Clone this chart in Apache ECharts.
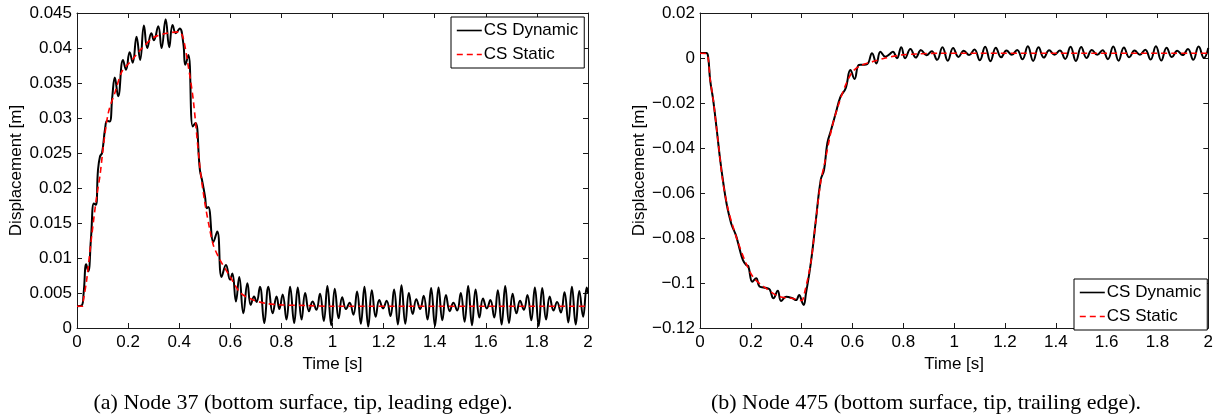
<!DOCTYPE html>
<html><head><meta charset="utf-8">
<script src="https://cdn.jsdelivr.net/npm/echarts@6/dist/echarts.min.js"></script>
<style>html,body{margin:0;padding:0;background:#fff}#c{width:1216px;height:418px}</style>
</head><body><div id="c"></div>
<script>
// ---- Node 37 (left) ----
const t37Dyn = [0.000,0.018,0.026,0.036,0.044,0.055,0.066,0.074,0.082,0.090,0.098,0.110,0.118,0.128,0.138,0.148,0.161,0.180,0.192,0.206,0.218,0.233,0.247,0.262,0.275,0.291,0.301,0.318,0.331,0.347,0.361,0.374,0.387,0.402,0.416,0.424,0.436,0.453,0.464,0.481,0.490,0.501,0.508,0.514,0.534,0.549,0.566,0.583,0.599,0.608,0.622,0.635,0.651,0.667,0.680,0.693,0.703,0.716,0.733,0.749,0.766,0.781,0.792,0.805,0.820,0.834,
0.850,0.864,0.879,0.893,0.908,0.922,0.937,0.951,0.966,0.980,0.995,1.009,1.024,1.038,1.053,1.067,1.082,1.096,1.111,1.125,1.140,1.154,1.169,1.183,1.198,1.212,1.227,1.241,1.256,1.270,1.285,1.299,1.314,1.328,1.343,1.357,1.372,1.386,1.401,1.415,1.430,1.444,1.459,1.473,1.488,1.502,1.517,1.531,1.546,1.560,1.575,1.589,1.604,1.618,1.633,1.647,1.662,1.676,1.691,1.705,1.720,1.734,1.749,1.763,1.778,1.792,1.807,1.821,1.836,1.850,1.865,1.879,1.894,1.908,1.923,1.937,1.952,1.966,1.981,1.995,2.000];
const d37Dyn = [0.0031,0.0032,0.0050,0.0091,0.0081,0.0130,0.0178,0.0176,0.0225,0.0245,0.0250,0.0285,0.0296,0.0295,0.0330,0.0358,0.0331,0.0383,0.0369,0.0394,0.0379,0.0416,0.0383,0.0432,0.0400,0.0421,0.0411,0.0431,0.0400,0.0441,0.0401,0.0433,0.0421,0.0428,0.0407,0.0376,0.0390,0.0288,0.0293,0.0226,0.0210,0.0188,0.0171,0.0173,0.0123,0.0138,0.0073,0.0090,0.0069,0.0078,0.0038,0.0073,0.0021,0.0064,0.0033,0.0045,0.0037,0.0059,0.0007,0.0059,0.0021,0.0045,0.0027,0.0048,0.0012,0.0059,
0.0007,0.0058,0.0012,0.0050,0.0024,0.0038,0.0026,0.0049,0.0010,0.0060,0.0004,0.0056,0.0014,0.0044,0.0027,0.0036,0.0019,0.0052,0.0006,0.0059,0.0002,0.0054,0.0016,0.0040,0.0028,0.0039,0.0017,0.0055,0.0005,0.0061,0.0006,0.0050,0.0020,0.0041,0.0027,0.0046,0.0012,0.0057,0.0003,0.0058,0.0011,0.0047,0.0024,0.0036,0.0025,0.0050,0.0009,0.0060,0.0004,0.0055,0.0015,0.0042,0.0028,0.0040,0.0015,0.0054,0.0005,0.0060,0.0007,0.0049,0.0021,0.0039,0.0026,0.0047,0.0011,0.0058,0.0003,0.0057,0.0012,0.0045,0.0025,0.0037,0.0022,0.0051,0.0008,0.0059,0.0005,0.0053,0.0016,0.0058,0.0050];
const t37Sta = [0,0.020,0.025,0.038,0.057,0.077,0.090,0.105,0.123,0.150,0.175,0.200,0.220,0.250,0.300,0.350,0.400,0.415,0.436,0.455,0.481,0.500,0.520,0.534,0.560,0.600,0.640,0.690,0.740,0.800,0.900,1.000,2.000];
const d37Sta = [0.0031,0.0031,0.0040,0.0069,0.0130,0.0188,0.0218,0.0265,0.0308,0.0338,0.0366,0.0377,0.0385,0.0398,0.0415,0.0421,0.0423,0.0415,0.0373,0.0326,0.0230,0.0180,0.0140,0.0118,0.0097,0.0073,0.0050,0.0040,0.0035,0.0033,0.0032,0.0031,0.0031];

// ---- Node 475 (right) ----
const t475Dyn = [0,0.025,0.032,0.040,0.052,0.065,0.078,0.091,0.105,0.118,0.124,0.135,0.143,0.155,0.169,0.182,0.190,0.206,0.221,0.234,0.250,0.267,0.275,0.289,0.306,0.319,0.339,0.364,0.378,0.390,0.401,0.408,0.417,0.436,0.456,0.475,0.488,0.501,0.514,0.534,0.553,0.573,0.592,0.608,0.625,0.640,0.658,0.677,0.694,0.710,0.729,0.744,0.759,0.775,0.792,
0.807,0.828,0.849,0.870,0.891,0.912,0.933,0.954,0.975,0.996,1.017,1.038,1.059,1.080,1.101,1.122,1.143,1.164,1.185,1.206,1.227,1.248,1.269,1.290,1.311,1.332,1.353,1.374,1.395,1.416,1.437,1.458,1.479,1.500,1.521,1.542,1.563,1.584,1.605,1.626,1.647,1.668,1.689,1.710,1.731,1.752,1.773,1.794,1.815,1.836,1.857,1.878,1.899,1.920,1.941,1.962,1.983,2.000];
const d475Dyn = [0.0022,0.0022,0.0005,-0.0098,-0.0187,-0.0310,-0.0440,-0.0550,-0.0650,-0.0715,-0.0740,-0.0770,-0.0794,-0.0845,-0.0898,-0.0920,-0.0925,-0.0994,-0.0979,-0.1016,-0.1020,-0.1024,-0.1030,-0.1068,-0.1034,-0.1080,-0.1061,-0.1068,-0.1076,-0.1053,-0.1083,-0.1098,-0.1046,-0.0912,-0.0720,-0.0542,-0.0498,-0.0379,-0.0327,-0.0246,-0.0172,-0.0135,-0.0053,-0.0093,-0.0031,-0.0030,-0.0027,0.0021,-0.0024,0.0028,0.0006,0.0015,0.0028,-0.0001,0.0048,
-0.0001,0.0040,0.0002,0.0035,0.0012,0.0030,-0.0008,0.0048,-0.0012,0.0045,0.0005,0.0032,0.0013,0.0038,-0.0010,0.0050,-0.0014,0.0046,0.0003,0.0033,0.0014,0.0036,-0.0006,0.0052,-0.0013,0.0048,0.0002,0.0034,0.0015,0.0033,-0.0004,0.0050,-0.0013,0.0049,0.0000,0.0036,0.0014,0.0034,-0.0005,0.0051,-0.0012,0.0047,0.0003,0.0033,0.0015,0.0037,-0.0007,0.0052,-0.0011,0.0046,0.0004,0.0032,0.0013,0.0040,-0.0008,0.0051,0.0000,0.0044];
const t475Sta = [0,0.025,0.032,0.040,0.052,0.070,0.090,0.110,0.130,0.150,0.180,0.210,0.250,0.310,0.360,0.400,0.410,0.436,0.456,0.475,0.490,0.520,0.550,0.575,0.600,0.630,0.680,0.730,0.790,0.850,0.950,2.000];
const d475Sta = [0.0021,0.0020,0.0000,-0.0095,-0.0185,-0.0360,-0.0550,-0.0670,-0.0750,-0.0820,-0.0910,-0.0975,-0.1016,-0.1060,-0.1068,-0.1078,-0.1050,-0.0910,-0.0720,-0.0550,-0.0470,-0.0305,-0.0190,-0.0115,-0.0061,-0.0035,-0.0016,0.0000,0.0013,0.0018,0.0021,0.0021];

const xTickLabels = ['0','0.2','0.4','0.6','0.8','1','1.2','1.4','1.6','1.8','2'];
const yTickLabels37 = ['0','0.005','0.01','0.015','0.02','0.025','0.03','0.035','0.04','0.045'];
const yTickLabels475 = ['\u22120.12','\u22120.1','\u22120.08','\u22120.06','\u22120.04','\u22120.02','0','0.02'];
const seriesNames = ['CS Dynamic','CS Static'];
const captions = ['(a) Node 37 (bottom surface, tip, leading edge).','(b) Node 475 (bottom surface, tip, trailing edge).'];

const zip = (a, b) => a.map((v, i) => [v, b[i]]);
const FONT = 'Liberation Sans, Arial, Helvetica, sans-serif';
const axisCol = '#1a1a1a';
const FS = 17;

function xAx(gi, pos, show) {
  return {
    type: 'value', gridIndex: gi, position: pos, min: 0, max: 2, interval: 0.2,
    axisLine: { show: true, onZero: false, lineStyle: { color: axisCol, width: 1 } },
    axisTick: { show: true, inside: true, length: 5, lineStyle: { color: axisCol } },
    splitLine: { show: false },
    axisLabel: show ? { show: true, margin: 6, color: '#000', fontSize: FS, fontFamily: FONT,
      formatter: v => xTickLabels[Math.round(v / 0.2)] } : { show: false },
    name: show ? 'Time [s]' : '', nameLocation: 'middle', nameGap: 20,
    nameTextStyle: { color: '#000', fontSize: FS, fontFamily: FONT }
  };
}
function yAx(gi, pos, show, min, max, itv, labels) {
  return {
    type: 'value', gridIndex: gi, position: pos, min: min, max: max, interval: itv,
    axisLine: { show: true, onZero: false, lineStyle: { color: axisCol, width: 1 } },
    axisTick: { show: true, inside: true, length: 5, lineStyle: { color: axisCol } },
    splitLine: { show: false },
    axisLabel: show ? { show: true, margin: 5, color: '#000', fontSize: FS, fontFamily: FONT,
      formatter: v => labels[Math.round((v - min) / itv)] } : { show: false },
    name: show ? 'Displacement [m]' : '', nameLocation: 'middle', nameGap: 52,
    nameTextStyle: { color: '#000', fontSize: FS, fontFamily: FONT }
  };
}
function dyn(xi, yi, data) {
  return { name: seriesNames[0], type: 'line', xAxisIndex: xi, yAxisIndex: yi, data: data,
    symbol: 'none', smooth: 0.45, lineStyle: { color: '#000', width: 2, type: 'solid' },
    itemStyle: { color: '#000' }, silent: true, animation: false, z: 2 };
}
function sta(xi, yi, data) {
  return { name: seriesNames[1], type: 'line', xAxisIndex: xi, yAxisIndex: yi, data: data,
    symbol: 'none', smooth: 0.3, lineStyle: { color: '#ff0000', width: 1.6, type: [6, 4] },
    itemStyle: { color: '#ff0000' }, silent: true, animation: false, z: 3 };
}
function leg(left, top) {
  return { left: left, top: top, orient: 'vertical', data: seriesNames,
    itemWidth: 25, itemHeight: 14, itemGap: 7, padding: [5, 6, 5, 5],
    itemStyle: { opacity: 0, borderWidth: 0 },
    lineStyle: { width: 1.6 },
    backgroundColor: '#fff', borderColor: '#000', borderWidth: 1, borderRadius: 0,
    selectedMode: false, textStyle: { color: '#000', fontSize: FS, fontFamily: FONT, padding: [0, 0, 0, -3] } };
}

const chart = echarts.init(document.getElementById('c'), null, { renderer: 'canvas' });
chart.setOption({
  animation: false,
  backgroundColor: '#fff',
  grid: [
    { left: 77, top: 13, width: 511, height: 315, containLabel: false },
    { left: 700, top: 13, width: 512, height: 315, containLabel: false }
  ],
  xAxis: [xAx(0, 'bottom', true), xAx(0, 'top', false), xAx(1, 'bottom', true), xAx(1, 'top', false)],
  yAxis: [
    yAx(0, 'left', true, 0, 0.045, 0.005, yTickLabels37), yAx(0, 'right', false, 0, 0.045, 0.005, yTickLabels37),
    yAx(1, 'left', true, -0.12, 0.02, 0.02, yTickLabels475), yAx(1, 'right', false, -0.12, 0.02, 0.02, yTickLabels475)
  ],
  legend: [leg(451, 17), leg(1074, 279)],
  series: [
    dyn(0, 0, zip(t37Dyn, d37Dyn)), sta(0, 0, zip(t37Sta, d37Sta)),
    dyn(2, 2, zip(t475Dyn, d475Dyn)), sta(2, 2, zip(t475Sta, d475Sta))
  ],
  graphic: [
    { type: 'text', x: 303, y: 403, style: { text: captions[0], x: 0, y: 0, textAlign: 'center', textVerticalAlign: 'middle', fill: '#000', font: '22px "Liberation Serif", "DejaVu Serif", serif' } },
    { type: 'text', x: 926, y: 403, style: { text: captions[1], x: 0, y: 0, textAlign: 'center', textVerticalAlign: 'middle', fill: '#000', font: '22px "Liberation Serif", "DejaVu Serif", serif' } }
  ]
});
</script></body></html>
